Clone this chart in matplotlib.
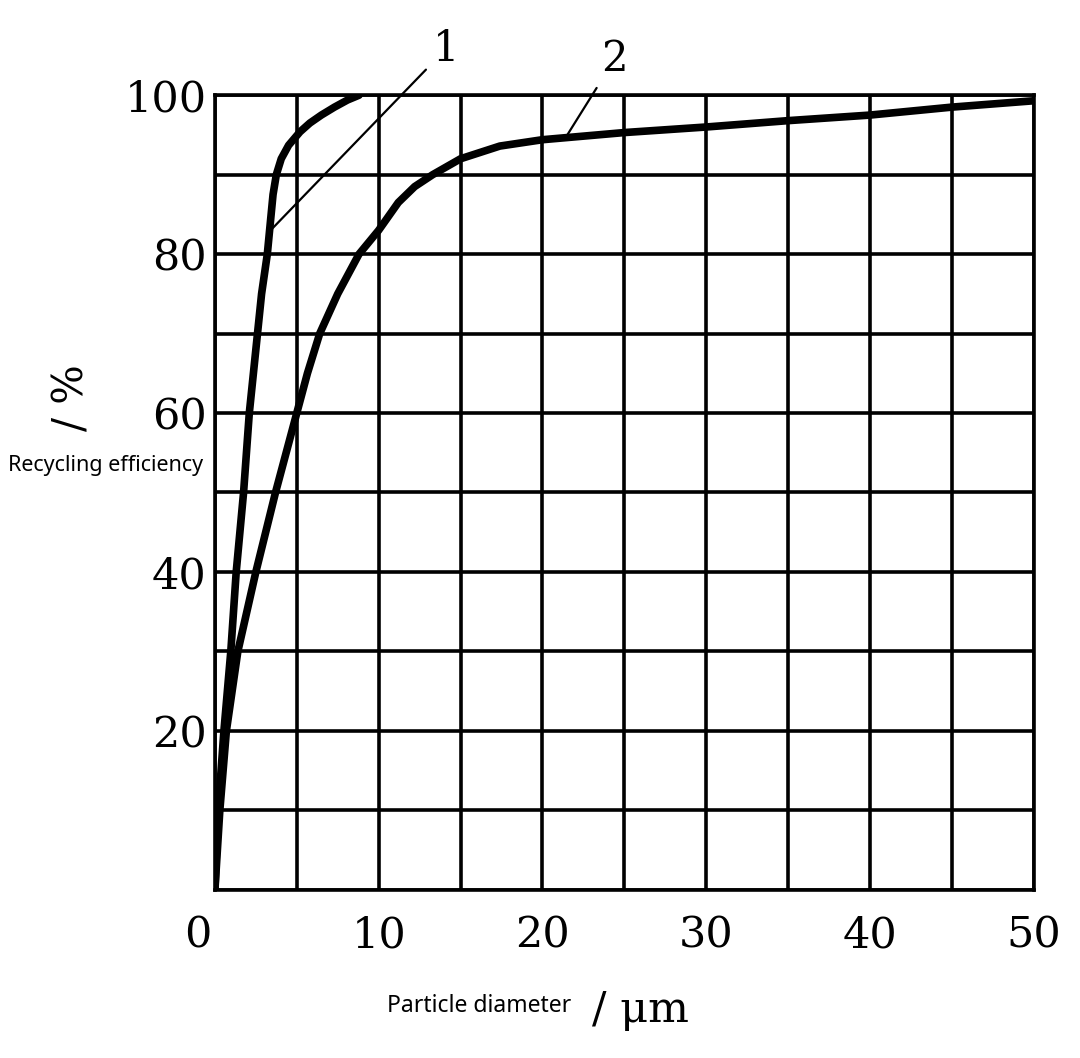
import matplotlib
matplotlib.use("Agg")
import matplotlib.pyplot as plt
import matplotlib.transforms as mtransforms
import numpy as np

# curve 1 and curve 2
d1 = [0, 0.2, 0.55, 0.97, 1.3, 1.75, 2.1, 2.35, 2.6, 2.85, 3.2, 3.4, 3.55,
      3.75, 4.05, 4.5, 5.2, 5.8, 6.5, 7.3, 8.1, 8.8]
e1 = [0, 10, 20, 30, 40, 50, 60, 65, 70, 75, 80, 84.3, 87.5,
      90, 92, 93.7, 95.4, 96.5, 97.5, 98.5, 99.4, 100]

d2 = [0, 0.3, 0.7, 1.4, 2.5, 3.7, 5, 5.65, 6.4, 7.5, 8.8, 10, 11.2, 12.2,
      13.3, 15, 17.4, 20, 25, 30, 35, 40, 45, 50]
e2 = [0, 10, 20, 30, 40, 50, 60, 65, 70, 75, 80, 83, 86.5, 88.5,
      90, 92, 93.6, 94.4, 95.3, 96, 96.8, 97.5, 98.5, 99.3]

xticks = [0, 10, 20, 30, 40, 50]
yticks = [20, 40, 60, 80, 100]

fig = plt.figure(figsize=(10.8, 10.58), dpi=100)
ax = fig.add_axes([0.199, 0.159, 0.758, 0.751])

ax.set_xlim(0, 50)
ax.set_ylim(0, 100)

# grid every 5 um and every 10 %
for gx in np.arange(0, 51, 5):
    ax.axvline(gx, color="black", lw=2.6, zorder=1)
for gy in np.arange(0, 101, 10):
    ax.axhline(gy, color="black", lw=2.6, zorder=1)

ax.plot(d1, e1, color="black", lw=5.5, solid_capstyle="round",
        solid_joinstyle="round", zorder=3)
ax.plot(d2, e2, color="black", lw=5.5, solid_capstyle="round",
        solid_joinstyle="round", zorder=3)

for s in ax.spines.values():
    s.set_linewidth(2.6)

ax.set_xticks(xticks)
ax.set_yticks(yticks)
ax.tick_params(length=0, labelsize=31)
ax.tick_params(axis="x", pad=18)
ax.tick_params(axis="y", pad=6)
for lab in ax.get_xticklabels() + ax.get_yticklabels():
    lab.set_family("DejaVu Serif")
# the "0" sits a little left of the corner
first = ax.get_xticklabels()[0]
first.set_transform(first.get_transform() +
                    mtransforms.ScaledTranslation(-0.17, 0, fig.dpi_scale_trans))

# curve labels with leader lines
ax.annotate("1", xy=(3.4, 83.0), xytext=(14.1, 105.8), textcoords="data",
            ha="center", va="center", fontsize=30, family="DejaVu Serif",
            annotation_clip=False,
            arrowprops=dict(arrowstyle="-", lw=1.6, color="black",
                            shrinkA=4, shrinkB=0))
ax.annotate("2", xy=(21.4, 94.6), xytext=(24.4, 104.5), textcoords="data",
            ha="center", va="center", fontsize=30, family="DejaVu Serif",
            annotation_clip=False,
            arrowprops=dict(arrowstyle="-", lw=1.6, color="black",
                            shrinkA=4, shrinkB=0))

# axis titles
fig.text(72 / 1080, 1 - 398 / 1058, "/ %", rotation=90, ha="center",
         va="center", fontsize=30, family="DejaVu Serif")
fig.text(106 / 1080, 1 - 465 / 1058, "Recycling efficiency", ha="center",
         va="center", fontsize=15.5, family="Noto Sans")
fig.text(479 / 1080, 1 - 1006 / 1058, "Particle diameter", ha="center",
         va="center", fontsize=16.5, family="Noto Sans")
fig.text(640 / 1080, 1 - 1010 / 1058, "/ \u03bcm", ha="center", va="center",
         fontsize=31, family="DejaVu Serif")

fig.savefig("out.png", dpi=100, facecolor="white")
